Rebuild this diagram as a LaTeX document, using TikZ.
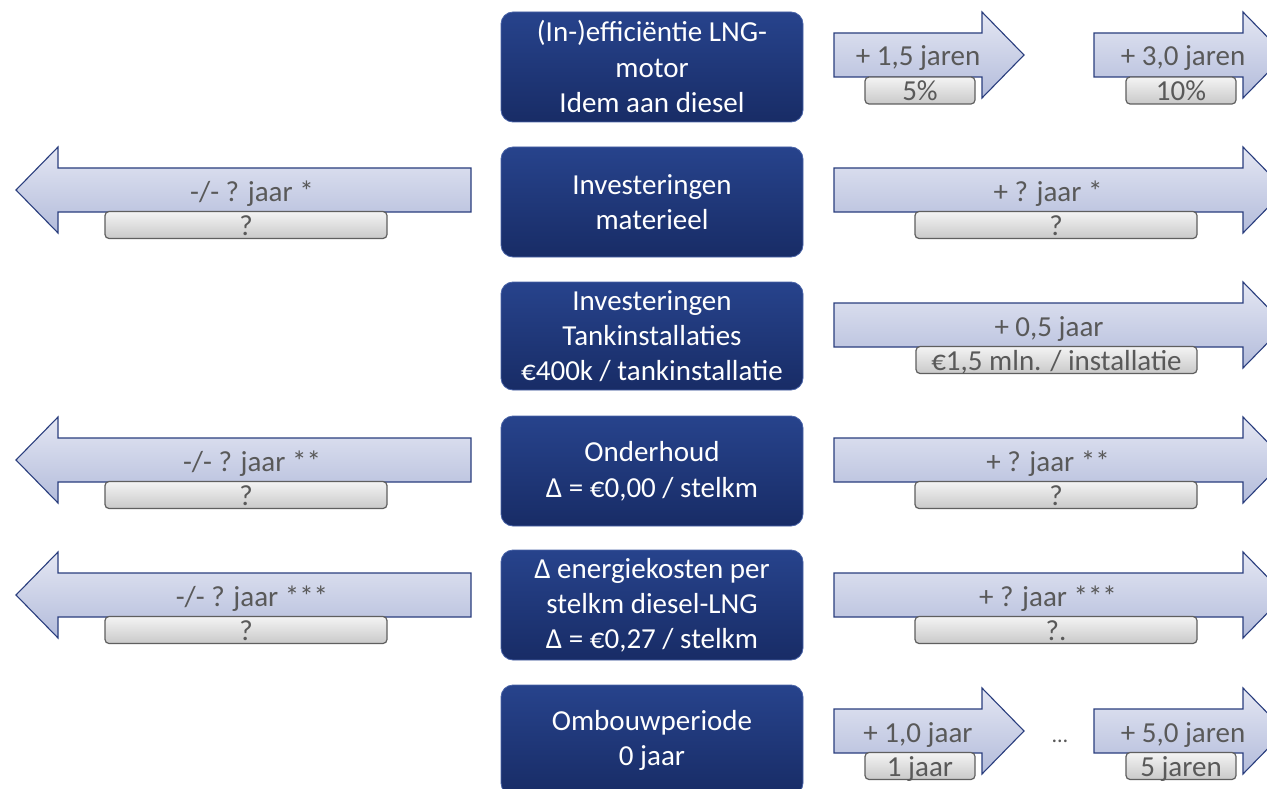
\documentclass[tikz,border=0pt]{standalone}
\usepackage{fontspec}
\setmainfont{Carlito}
\definecolor{navyA}{HTML}{27438C}
\definecolor{navyB}{HTML}{182C66}
\definecolor{navyE}{HTML}{4A64A8}
\definecolor{arrA}{HTML}{E4E7F3}
\definecolor{arrB}{HTML}{B3BCDB}
\definecolor{arrE}{HTML}{2A3E7E}
\definecolor{txtG}{HTML}{595959}
\definecolor{greyA}{HTML}{F4F4F4}
\definecolor{greyB}{HTML}{C9C9C9}
\definecolor{greyE}{HTML}{5F5F5F}
\newcommand\rarr[4]{\shadedraw[arrowshape] (#1,#4-22) -- (#2,#4-22) -- (#2,#4-43) -- (#3,#4) -- (#2,#4+43) -- (#2,#4+22) -- (#1,#4+22) -- cycle;}
\newcommand\larr[4]{\shadedraw[arrowshape] (#1,#4-22) -- (#2,#4-22) -- (#2,#4-43) -- (#3,#4) -- (#2,#4+43) -- (#2,#4+22) -- (#1,#4+22) -- cycle;}
\begin{document}
\begin{tikzpicture}[x=1pt,y=-1pt,
  arrowshape/.style={top color=arrA,bottom color=arrB,draw=arrE,line width=1.1pt,line join=miter},
  centerbox/.style={shape=rectangle,rounded corners=12pt,top color=navyA,bottom color=navyB,draw=navyE,line width=0.8pt,
    minimum width=302pt,minimum height=110pt,inner sep=0pt,text=white,align=center,
    font=\fontsize{29}{35}\selectfont},
  greybox/.style={shape=rectangle,rounded corners=4pt,top color=greyA,bottom color=greyB,draw=greyE,line width=1.2pt,
    minimum height=27pt,inner sep=0pt,text height=20pt,text depth=0pt,text=txtG,
    font=\fontsize{29}{35}\selectfont},
  atext/.style={text=txtG,inner sep=0pt,anchor=base,font=\fontsize{29}{35}\selectfont}]
\clip (0,0) rectangle (1267,789);
\fill[white] (0,0) rectangle (1267,789);

% center boxes
\node[centerbox] (c1) at (652,67) {(In-)efficiëntie LNG-\\[1pt]motor\\Idem aan diesel};
\node[centerbox] (c2) at (652,202) {Investeringen\\materieel};
\node[centerbox,minimum height=108pt] (c3) at (652,336) {Investeringen\\Tankinstallaties\\€400k / tankinstallatie};
\node[centerbox] (c4) at (652,471) {Onderhoud\\[1pt]Δ = €0,00 / stelkm};
\node[centerbox] (c5) at (652,605) {Δ energiekosten per\\stelkm diesel-LNG\\Δ = €0,27 / stelkm};
\node[centerbox] (c6) at (652,740) {Ombouwperiode\\0 jaar};

% row 1
\rarr{834}{982}{1024}{55}
\rarr{1094}{1243}{1285}{55}
\node[greybox,minimum width=110pt] (g1a) at (920,90.5) {5\%};
\node[greybox,minimum width=110pt] (g1b) at (1181,90.5) {10\%};
\node[atext] (t1a) at (918,66) {+ 1,5 jaren};
\node[atext] (t1b) at (1183,66) {+ 3,0 jaren};

% row 2
\larr{471}{58}{16}{190}
\rarr{834}{1243}{1285}{190}
\node[greybox,minimum width=282pt] (g2l) at (246,225) {?};
\node[greybox,minimum width=282pt] (g2r) at (1056,225) {?};
\node[atext] (t2l) at (252,201) {-/- ? jaar *};
\node[atext] (t2r) at (1048,201) {+ ? jaar *};

% row 3
\rarr{834}{1243}{1285}{325}
\node[greybox,minimum width=281pt] (g3r) at (1056.5,360) {€1,5 mln. / installatie};
\node[atext] (t3r) at (1049,336) {+ 0,5 jaar};

% row 4
\larr{471}{58}{16}{460}
\rarr{834}{1243}{1285}{460}
\node[greybox,minimum width=282pt] (g4l) at (246,495) {?};
\node[greybox,minimum width=282pt] (g4r) at (1056,495) {?};
\node[atext] (t4l) at (252,471) {-/- ? jaar **};
\node[atext] (t4r) at (1048,471) {+ ? jaar **};

% row 5
\larr{471}{58}{16}{595}
\rarr{834}{1243}{1285}{595}
\node[greybox,minimum width=282pt] (g5l) at (246,630) {?};
\node[greybox,minimum width=282pt] (g5r) at (1056,630) {?.};
\node[atext] (t5l) at (252,606) {-/- ? jaar ***};
\node[atext] (t5r) at (1048,606) {+ ? jaar ***};

% row 6
\rarr{834}{982}{1024}{731}
\rarr{1094}{1243}{1285}{731}
\node[greybox,minimum width=110pt] (g6a) at (920,766) {1 jaar};
\node[greybox,minimum width=110pt] (g6b) at (1181,766) {5 jaren};
\node[atext] (t6a) at (918,742) {+ 1,0 jaar};
\node[atext] (t6b) at (1183,742) {+ 5,0 jaren};
\node[atext,font=\fontsize{22}{26}\selectfont] (dots) at (1060,742) {…};
\end{tikzpicture}
\end{document}
